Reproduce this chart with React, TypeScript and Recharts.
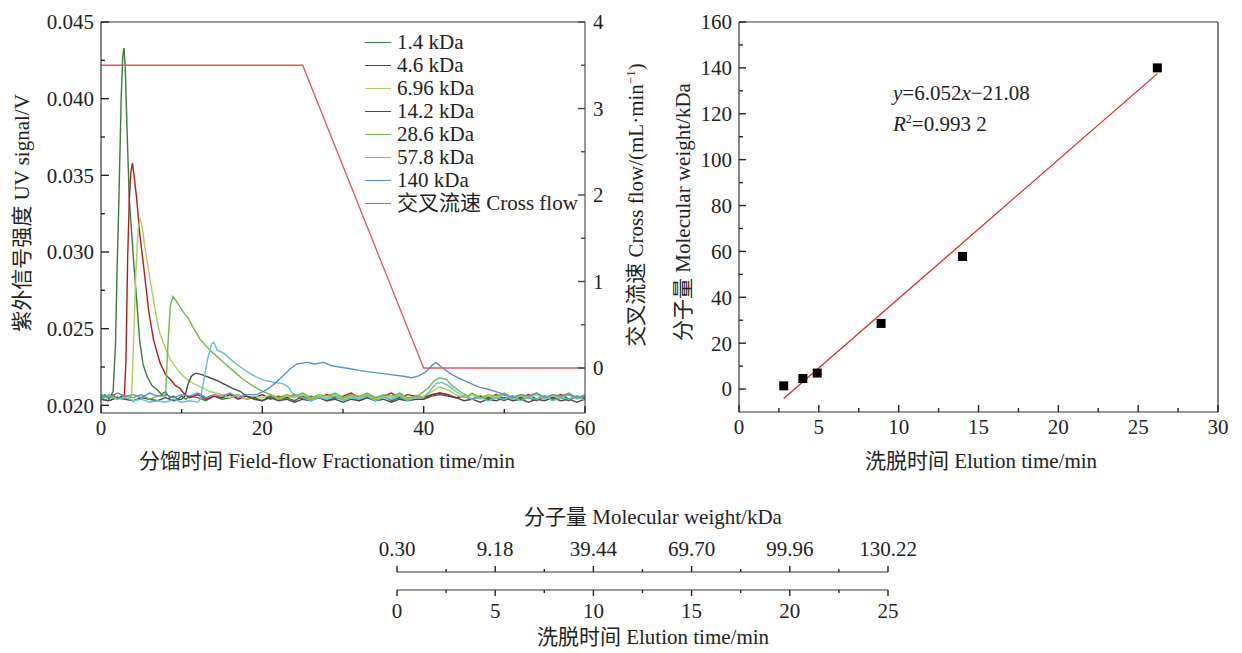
import React from 'react';
import { LineChart, Line, XAxis, YAxis, Legend, ReferenceLine, ComposedChart, Scatter } from 'recharts';

const FONT = "'Liberation Serif', 'Times New Roman', 'Noto Sans CJK SC', serif";
const INK = '#222';

// ---- left chart: UV traces (time/min, signal/V) ----
const uv1_4: [number, number][] = [
  [0, .0205], [0.5, .0207], [1, .0204], [1.5, .0209], [1.8, .0240], [2.0, .0290], [2.2, .0330], [2.5, .0400], [2.7, .0428],
  [2.85, .0433], [3.0, .0421], [3.2, .0385], [3.5, .0335], [4.0, .0297], [4.4, .0270], [4.8, .0242], [5.2, .0227], [5.7, .0219],
  [6.3, .0213], [7, .0210], [7.5, .0207], [8, .0209], [8.5, .0205], [9, .0206], [9.5, .0204], [10, .0206], [10.5, .0204], [11, .0206],
  [12, .0205], [13, .0203], [14, .0206], [15, .0204], [16, .0205], [17, .0207], [18, .0204], [19, .0205], [20, .0203], [21, .0206],
  [22, .0204], [23, .0205], [24, .0203], [25, .0206], [26, .0204], [27, .0205], [28, .0203], [29, .0205], [30, .0204], [31, .0206],
  [32, .0203], [33, .0205], [34, .0204], [35, .0206], [36, .0203], [37, .0205], [38, .0204], [39, .0206], [40, .0205], [41, .0207],
  [42, .0208], [43, .0207], [44, .0205], [45, .0206], [46, .0204], [47, .0206], [48, .0204], [49, .0205], [50, .0203], [51, .0206],
  [52, .0204], [53, .0205], [54, .0203], [55, .0206], [56, .0204], [57, .0205], [58, .0203], [59, .0206], [60, .0204],
];
const uv4_6: [number, number][] = [
  [0, .0204], [0.5, .0206], [1, .0205], [1.5, .0207], [2, .0204], [2.5, .0206], [2.9, .0206], [3.1, .0230], [3.3, .0295],
  [3.5, .0333], [3.7, .0352], [3.9, .0358], [4.1, .0350], [4.4, .0336], [4.8, .0312], [5.3, .0290], [5.9, .0262], [6.5, .0243],
  [7.3, .0228], [8.0, .0220], [8.6, .0217], [9.2, .0213], [9.8, .0211], [10.4, .0207], [11, .0205], [12, .0207], [13, .0204],
  [14, .0206], [15, .0205], [16, .0207], [17, .0204], [18, .0206], [19, .0205], [20, .0207], [21, .0204], [22, .0206], [23, .0205],
  [24, .0207], [25, .0204], [26, .0206], [27, .0205], [28, .0207], [29, .0205], [30, .0206], [31, .0208], [32, .0205], [33, .0207],
  [34, .0205], [35, .0206], [36, .0208], [37, .0205], [38, .0207], [39, .0206], [40, .0205], [41, .0207], [42, .0208], [43, .0207],
  [44, .0205], [45, .0206], [46, .0204], [47, .0206], [48, .0205], [49, .0207], [50, .0204], [51, .0206], [52, .0205], [53, .0207],
  [54, .0204], [55, .0206], [56, .0205], [57, .0207], [58, .0204], [59, .0206], [60, .0205],
];
const uv6_96: [number, number][] = [
  [0, .0205], [0.5, .0203], [1, .0206], [1.5, .0204], [2, .0206], [2.5, .0204], [3, .0205], [3.5, .0204], [3.8, .0207], [4.0, .0235],
  [4.3, .0285], [4.6, .0315], [4.85, .0322], [5.1, .0316], [5.5, .0301], [6.0, .0285], [6.5, .0269], [7.0, .0254], [7.3, .0247],
  [8.0, .0237], [8.6, .0230], [9.5, .0223], [10.2, .0219], [11.2, .0215], [12.3, .0212], [13.5, .0209], [15, .0207], [16, .0205],
  [17, .0207], [18, .0204], [19, .0206], [20, .0205], [21, .0207], [22, .0204], [23, .0206], [24, .0205], [25, .0207], [26, .0204],
  [27, .0206], [28, .0205], [29, .0207], [30, .0204], [31, .0206], [32, .0205], [33, .0207], [34, .0204], [35, .0206], [36, .0205],
  [37, .0207], [38, .0204], [39, .0206], [40, .0206], [41, .0209], [42, .0212], [43, .0210], [44, .0207], [45, .0205], [46, .0207],
  [47, .0204], [48, .0206], [49, .0205], [50, .0207], [51, .0204], [52, .0206], [53, .0205], [54, .0207], [55, .0204], [56, .0206],
  [57, .0205], [58, .0207], [59, .0204], [60, .0206],
];
const uv14_2: [number, number][] = [
  [0, .0204], [1, .0203], [2, .0205], [3, .0204], [4, .0203], [5, .0205], [6, .0204], [7, .0203], [8, .0205], [9, .0203], [10, .0204],
  [10.4, .0206], [10.8, .0214], [11.2, .0219], [11.7, .0221], [12.5, .0220], [13.5, .0218], [14.5, .0216], [15.2, .0214], [16.3, .0211],
  [17.3, .0209], [18, .0206], [19, .0204], [20, .0203], [21, .0205], [22, .0203], [23, .0204], [24, .0202], [25, .0204], [26, .0203],
  [27, .0205], [28, .0203], [29, .0204], [30, .0202], [31, .0204], [32, .0203], [33, .0205], [34, .0203], [35, .0204], [36, .0202],
  [37, .0204], [38, .0203], [39, .0204], [40, .0204], [41, .0206], [42, .0207], [43, .0206], [44, .0205], [45, .0203], [46, .0204],
  [47, .0202], [48, .0204], [49, .0203], [50, .0205], [51, .0203], [52, .0204], [53, .0202], [54, .0204], [55, .0203], [56, .0205],
  [57, .0203], [58, .0204], [59, .0202], [60, .0204],
];
const uv28_6: [number, number][] = [
  [0, .0205], [1, .0207], [2, .0204], [3, .0206], [4, .0205], [5, .0207], [6, .0204], [7, .0206], [8, .0206], [8.3, .0240],
  [8.6, .0265], [8.9, .0271], [9.2, .0269], [9.7, .0265], [10.3, .0260], [10.8, .0257], [11.5, .0250], [12.3, .0243], [13.5, .0236],
  [15.2, .0228], [16.5, .0222], [17.6, .0217], [19, .0212], [20.1, .0209], [21, .0207], [22, .0205], [23, .0207], [24, .0206],
  [25, .0208], [26, .0205], [27, .0207], [28, .0206], [29, .0208], [30, .0205], [31, .0207], [32, .0206], [33, .0208], [34, .0205],
  [35, .0207], [36, .0206], [37, .0208], [38, .0205], [39, .0206], [39.5, .0207], [40.5, .0211], [41.3, .0216], [42, .0218],
  [42.8, .0217], [43.5, .0213], [44.5, .0209], [45.5, .0206], [46, .0208], [47, .0205], [48, .0207], [49, .0206], [50, .0208],
  [51, .0205], [52, .0207], [53, .0206], [54, .0208], [55, .0205], [56, .0207], [57, .0206], [58, .0208], [59, .0205], [60, .0207],
];
const uv57_8: [number, number][] = [
  [0, .0204], [1, .0206], [2, .0204], [3, .0205], [4, .0203], [5, .0204], [6, .0202], [7, .0203], [8, .0202], [9, .0204], [10, .0202],
  [11, .0203], [12, .0202], [12.3, .0204], [12.7, .0215], [13.2, .0230], [13.7, .0240], [14.0, .0241], [14.4, .0236], [15.2, .0234],
  [16.3, .0229], [17.3, .0225], [18.4, .0221], [19.4, .0218], [20.5, .0216], [21.5, .0215], [22.6, .0214], [23.2, .0212], [23.7, .0208],
  [24.5, .0206], [25, .0205], [26, .0203], [27, .0205], [28, .0204], [29, .0206], [30, .0203], [31, .0205], [32, .0204], [33, .0206],
  [34, .0203], [35, .0205], [36, .0204], [37, .0206], [38, .0203], [39, .0205], [40, .0205], [40.7, .0209], [41.5, .0214],
  [42.2, .0215], [43, .0213], [44, .0209], [45, .0206], [46, .0204], [47, .0205], [48, .0203], [49, .0205], [50, .0204], [51, .0206],
  [52, .0203], [53, .0205], [54, .0204], [55, .0206], [56, .0203], [57, .0205], [58, .0204], [59, .0206], [60, .0203],
];
const uv140: [number, number][] = [
  [0, .0207], [1, .0205], [2, .0208], [3, .0206], [4, .0207], [5, .0205], [6, .0208], [7, .0206], [8, .0207], [9, .0205], [10, .0207],
  [11, .0206], [12, .0208], [13, .0205], [14, .0207], [15, .0206], [16, .0208], [17, .0205], [18, .0207], [19.3, .0207], [20.5, .0210],
  [21.5, .0214], [22.5, .0219], [23.5, .0224], [24.3, .0227], [25.6, .0228], [26.5, .0227], [27.6, .0228], [28.5, .0226], [29.5, .0225],
  [30.7, .0224], [31.8, .0223], [33, .0222], [34.5, .0221], [35.9, .0220], [37.5, .0219], [38.5, .0218], [39.3, .0219], [40.3, .0222],
  [41, .0226], [41.5, .0228], [42.2, .0225], [43.2, .0221], [44.2, .0218], [45.5, .0215], [46.8, .0212], [48.3, .0210], [49.5, .0208],
  [50, .0207], [51, .0205], [52, .0207], [53, .0206], [54, .0208], [55, .0205], [56, .0207], [57, .0206], [58, .0207], [59, .0205],
  [60, .0206],
];

const uvNames = ['1.4 kDa', '4.6 kDa', '6.96 kDa', '14.2 kDa', '28.6 kDa', '57.8 kDa', '140 kDa'];
const uvColors = ['#3d7a3d', '#b01c1c', '#a9d05b', '#4a4a4a', '#73b84f', '#62c0c8', '#5b8ed6'];
const uvTraces = [uv1_4, uv4_6, uv6_96, uv14_2, uv28_6, uv57_8, uv140];

// cross flow program (min, mL/min)
const flowTime = [0, 25, 40, 60];
const flowRate = [3.5, 3.5, 0, 0];
const flowName = '交叉流速 Cross flow';
const flowColor = '#e0535f';

const fracTicks = [0, 10, 20, 30, 40, 50, 60];
const uvTicks = [0.02, 0.0225, 0.025, 0.0275, 0.03, 0.0325, 0.035, 0.0375, 0.04, 0.0425, 0.045];
const flowTicks = [0, 0.5, 1, 1.5, 2, 2.5, 3, 3.5, 4];
const uvDomain = [0.0195, 0.045];
const flowDomain = [-0.52, 4];

// ---- right chart: calibration ----
const elutionTime = [2.8, 4.0, 4.9, 8.9, 14.0, 26.2];
const molWeight = [1.4, 4.6, 6.96, 28.6, 57.8, 140];
const fitTime = [2.8, 26.2];
const fitWeight = [-4.1, 137.5];
const calXTicks = [0, 2.5, 5, 7.5, 10, 12.5, 15, 17.5, 20, 22.5, 25, 27.5, 30];
const calYTicks = [0, 10, 20, 30, 40, 50, 60, 70, 80, 90, 100, 110, 120, 130, 140, 150, 160];
const calXDomain = [0, 30];
const calYDomain = [-10, 160];

// ---- bottom conversion scale ----
const scaleTicks = [0, 2.5, 5, 7.5, 10, 12.5, 15, 17.5, 20, 22.5, 25];
const mwLabels = ['0.30', '9.18', '39.44', '69.70', '99.96', '130.22'];

const toPts = (a: [number, number][]) => a.map(([t, v]) => ({ t, v }));
const flowPts = flowTime.map((t, i) => ({ t, v: flowRate[i] }));
const calPts = elutionTime.map((x, i) => ({ x, y: molWeight[i] }));
const fitPts = fitTime.map((x, i) => ({ x, y: fitWeight[i] }));
const scalePts = scaleTicks.map((t) => ({ t }));

// draws major/minor ticks (every other tick is minor) with labels
const tickRenderer = (
  side: 'left' | 'right' | 'bottom' | 'top' | 'under',
  label: (v: number, i: number) => string,
  majorLen: number,
  minorLen: number,
  color = '#222'
) => (p: any) => {
  const x = Number(p.x);
  const y = Number(p.y);
  const index = p.index;
  const major = index % 2 === 0;
  const len = major ? majorLen : minorLen;
  const txt = major ? label(p.payload.value, index) : '';
  const ls = { style: { stroke: color, strokeWidth: 1.4 } };
  const ts = { style: { fill: INK, fontSize: 21, fontFamily: FONT, stroke: 'none' } };
  let x2 = x, y2 = y, tx = x, ty = y, anchor: 'start' | 'middle' | 'end' = 'middle';
  if (side === 'left') { x2 = x + len; tx = x - 7; anchor = 'end'; }
  else if (side === 'right') { x2 = x - len; tx = x + 8; anchor = 'start'; }
  else if (side === 'bottom') { y2 = y - len; ty = y + 15; }
  else if (side === 'top') { y2 = y - len; ty = y - 23; }
  else { y2 = y + len; ty = y + 21; }
  return (
    <g>
      <line x1={x} y1={y} x2={x2} y2={y2} {...ls} />
      <text x={tx} y={ty} dy="0.35em" textAnchor={anchor} {...ts}>{txt}</text>
    </g>
  );
};

const axisBase = { tickSize: 0, tickMargin: 0, tickLine: false, interval: 0 as const };

const LegendBox = () => (
  <div style={{ fontFamily: FONT, fontSize: 21, color: INK, lineHeight: '23px' }}>
    {[...uvNames, flowName].map((n, i) => (
      <div key={n} style={{ display: 'flex', alignItems: 'center', height: 23, whiteSpace: 'nowrap' }}>
        <span style={{ display: 'inline-block', width: 26, height: 0, borderTop: `1.5px solid ${i < uvColors.length ? uvColors[i] : flowColor}`, marginRight: 6 }} />
        {n}
      </div>
    ))}
  </div>
);

const Title = ({ x, y, rot, children }: { x: number; y: number; rot?: boolean; children: React.ReactNode }) => (
  <div style={{
    position: 'absolute', left: x, top: y, whiteSpace: 'nowrap', fontSize: 21, lineHeight: '24px', fontFamily: FONT,
    transform: `translate(-50%, -50%)${rot ? ' rotate(-90deg)' : ''}`,
  }}>{children}</div>
);

export default function App() {
  return (
    <div style={{ position: 'absolute', left: 0, top: 0, width: 1242, height: 653, background: '#fff', fontFamily: FONT, color: INK }}>
      {/* left: fractograms */}
      <div style={{ position: 'absolute', left: 0, top: 0 }}>
        <LineChart width={640} height={480} margin={{ top: 22, left: 41, right: 5, bottom: 37 }}>
          <XAxis {...axisBase} type="number" dataKey="t" domain={[0, 60]} ticks={fracTicks} height={30}
            axisLine={{ stroke: '#333', strokeWidth: 1.2 }}
            tick={tickRenderer('bottom', (v) => String(v), 7, 4)} />
          <YAxis {...axisBase} yAxisId="left" type="number" domain={uvDomain} ticks={uvTicks} width={60}
            axisLine={{ stroke: '#333', strokeWidth: 1.2 }}
            tick={tickRenderer('left', (v) => v.toFixed(3), 8, 4)} />
          <YAxis {...axisBase} yAxisId="right" orientation="right" type="number" domain={flowDomain} ticks={flowTicks} width={50}
            axisLine={{ stroke: '#555', strokeWidth: 1.2 }}
            tick={tickRenderer('right', (v) => String(v), 7, 4, '#444')} />
          <ReferenceLine yAxisId="left" y={uvDomain[1]} stroke="#333" strokeWidth={1.2} />
          {uvTraces.map((tr, i) => (
            <Line key={uvNames[i]} yAxisId="left" data={toPts(tr)} dataKey="v" name={uvNames[i]} type="linear"
              stroke={uvColors[i]} strokeWidth={1.4} dot={false} isAnimationActive={false} />
          ))}
          <Line yAxisId="right" data={flowPts} dataKey="v" name={flowName} type="linear"
            stroke={flowColor} strokeWidth={1.3} dot={false} isAnimationActive={false} />
          <Legend layout="vertical" align="center" verticalAlign="middle" content={() => <LegendBox />}
            wrapperStyle={{ left: 365, top: 31, width: 'auto', height: 'auto' }} />
        </LineChart>
      </div>

      {/* right: calibration */}
      <div style={{ position: 'absolute', left: 660, top: 0 }}>
        <ComposedChart width={582} height={480} margin={{ top: 22, left: 19, right: 24, bottom: 38 }}>
          <XAxis {...axisBase} type="number" dataKey="x" domain={calXDomain} ticks={calXTicks} height={30}
            axisLine={{ stroke: '#333', strokeWidth: 1.2 }}
            tick={tickRenderer('bottom', (v) => String(v), 7, 4)} />
          <YAxis {...axisBase} type="number" domain={calYDomain} ticks={calYTicks} width={60}
            axisLine={{ stroke: '#333', strokeWidth: 1.2 }}
            tick={tickRenderer('left', (v) => String(v), 7, 4)} />
          <ReferenceLine y={calYDomain[1]} stroke="#333" strokeWidth={1.2} />
          <ReferenceLine x={calXDomain[1]} stroke="#333" strokeWidth={1.2} />
          <Line data={fitPts} dataKey="y" type="linear" stroke="#e0242a" strokeWidth={1.3} dot={false} isAnimationActive={false} />
          <Scatter data={calPts} dataKey="y" isAnimationActive={false}
            shape={(p: any) => <rect x={p.cx - 4.5} y={p.cy - 4.5} width={9} height={9} fill="#000" />} />
        </ComposedChart>
      </div>

      {/* bottom: time to molecular weight scale */}
      <div style={{ position: 'absolute', left: 300, top: 490 }}>
        <ComposedChart width={650} height={163} data={scalePts} margin={{ top: 52, left: 97, right: 62, bottom: 33 }}>
          <XAxis {...axisBase} xAxisId="mw" orientation="top" type="number" dataKey="t" domain={[0, 25]} ticks={scaleTicks} height={30}
            axisLine={{ stroke: '#333', strokeWidth: 1.2 }}
            tick={tickRenderer('top', (_v, i) => mwLabels[i / 2], 6, 3)} />
          <XAxis {...axisBase} xAxisId="time" orientation="bottom" type="number" dataKey="t" domain={[0, 25]} ticks={scaleTicks} height={30}
            axisLine={{ stroke: '#333', strokeWidth: 1.2 }}
            tick={tickRenderer('under', (v) => String(v), 6, 3)} />
          <YAxis hide domain={[0, 1]} />
          <Line xAxisId="time" dataKey="t" stroke="none" dot={false} isAnimationActive={false} legendType="none" />
        </ComposedChart>
      </div>

      <Title x={22} y={213} rot>紫外信号强度 UV signal/V</Title>
      <Title x={633} y={205} rot>交叉流速 Cross flow/(mL·min<sup style={{ fontSize: 13 }}>−1</sup>)</Title>
      <Title x={327} y={461}>分馏时间 Field-flow Fractionation time/min</Title>
      <Title x={683} y={212} rot>分子量 Molecular weight/kDa</Title>
      <Title x={981} y={461}>洗脱时间 Elution time/min</Title>
      <Title x={653} y={517}>分子量 Molecular weight/kDa</Title>
      <Title x={653} y={637}>洗脱时间 Elution time/min</Title>
      <div style={{ position: 'absolute', left: 893, top: 80, fontSize: 21, lineHeight: '26px', whiteSpace: 'nowrap' }}>
        <div><i>y</i>=6.052<i>x</i>−21.08</div>
        <div><i>R</i><sup style={{ fontSize: 12 }}>2</sup>=0.993 2</div>
      </div>
    </div>
  );
}
